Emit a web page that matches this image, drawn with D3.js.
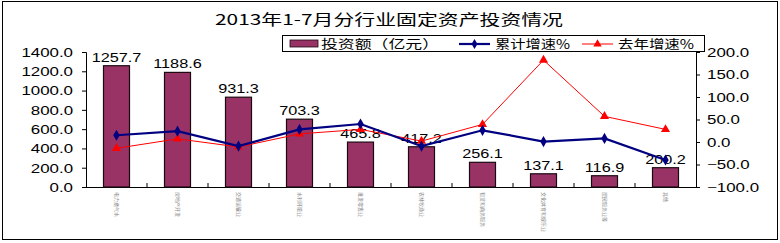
<!DOCTYPE html>
<html><head><meta charset="utf-8">
<script src="https://cdn.jsdelivr.net/npm/d3@7"></script>
<style>body{margin:0;background:#fff}svg{display:block}</style>
</head><body>
<svg id="c" width="780" height="243"></svg>
<script>
const categories = ["电力燃气水","房地产开发","交通运输业","水利环境业","批发零售业","农林牧渔业","租赁和商务服务","文化体育和娱乐业","居民服务业等","其他"];
const investment = [1257.7,1188.6,931.3,703.3,465.8,417.2,256.1,137.1,116.9,200.2];
const cumGrowth = [15,24,-9,28,40,-9,26,1,8,-40];
const lastYearGrowth = [-14,7,-11,18,28,2,39,182,57,28];
const leftTicks = [0,200,400,600,800,1000,1200,1400];
const rightTicks = [-100,-50,0,50,100,150,200];
const title = "2013年1-7月分行业固定资产投资情况";
const legendLabels = ["投资额（亿元）","累计增速%","去年增速%"];

const svg = d3.select("#c");
const L = 86, R = 696, T = 52, B = 187;
const numFont = "'Liberation Sans', Arial, sans-serif";

svg.append("rect").attr("x",2.5).attr("y",1.5).attr("width",775).attr("height",238)
  .attr("fill","#fff").attr("stroke","#000").attr("stroke-width",1);

const x = d3.scaleBand().domain(categories).range([L,R]);
const yL = d3.scaleLinear().domain([0,1400]).range([B,T]);
const yR = d3.scaleLinear().domain([-100,200]).range([B,T]);

function stretch(sel, k){
  sel.each(function(){ const n=this.getComputedTextLength(); d3.select(this).attr("textLength", n*k).attr("lengthAdjust","spacingAndGlyphs"); });
}

// title
svg.append("text").attr("x",389).attr("y",25).attr("text-anchor","middle")
  .attr("font-family","'Noto Sans CJK SC', sans-serif").attr("font-size",15).attr("fill","#000")
  .attr("textLength",348).attr("lengthAdjust","spacingAndGlyphs").text(title);

// left axis
const gl = svg.append("g").attr("transform",`translate(${L},0)`)
  .call(d3.axisLeft(yL).tickValues(leftTicks).tickSize(4).tickPadding(9).tickFormat(d3.format(".1f")));
gl.select(".domain").attr("stroke","#000");
gl.selectAll("text").attr("font-family",numFont).attr("font-size",12.5).attr("fill","#000").attr("dy","0.35em");
stretch(gl.selectAll("text"),1.35);

// right axis
const gr = svg.append("g").attr("transform",`translate(${R},0)`)
  .call(d3.axisRight(yR).tickValues(rightTicks).tickSize(4).tickPadding(7).tickFormat(d3.format(".1f")));
gr.select(".domain").attr("stroke","#000");
gr.selectAll("text").attr("font-family",numFont).attr("font-size",12.5).attr("fill","#000").attr("dy","0.35em");
stretch(gr.selectAll("text"),1.35);

// bottom axis
svg.append("line").attr("x1",L).attr("x2",R).attr("y1",B+0.5).attr("y2",B+0.5).attr("stroke","#000");
svg.append("g").selectAll("line").data(d3.range(1,categories.length)).join("line")
  .attr("x1",i=>L+i*x.bandwidth()).attr("x2",i=>L+i*x.bandwidth())
  .attr("y1",B).attr("y2",B-4).attr("stroke","#000");

// bars
const bw = 26;
svg.append("g").selectAll("rect").data(investment).join("rect")
  .attr("x",(d,i)=>x(categories[i])+x.bandwidth()/2-bw/2)
  .attr("y",d=>yL(d)).attr("width",bw).attr("height",d=>B-yL(d))
  .attr("fill","#993366").attr("stroke","#1a0a10").attr("stroke-width",1.2);

// bar labels
const bl = svg.append("g").selectAll("text").data(investment).join("text")
  .attr("x",(d,i)=>x(categories[i])+x.bandwidth()/2).attr("y",d=>yL(d)-4)
  .attr("text-anchor","middle").attr("font-family",numFont).attr("font-size",12.5).attr("fill","#000")
  .text(d=>d.toFixed(1));
stretch(bl,1.3);

// category labels (vertical)
svg.append("g").selectAll("text").data(categories).join("text")
  .attr("transform",d=>`translate(${x(d)+x.bandwidth()/2-2},192) rotate(90)`)
  .attr("font-family","'Noto Sans CJK SC', sans-serif").attr("font-size",5).attr("fill","#888")
  .text(d=>d);

// lines
const cx = i => x(categories[i]) + x.bandwidth()/2;
const lineR = d3.line().x((d,i)=>cx(i)).y(d=>yR(d));
svg.append("path").datum(lastYearGrowth).attr("d",lineR).attr("fill","none").attr("stroke","#ff0000").attr("stroke-width",1);
svg.append("path").datum(cumGrowth).attr("d",lineR).attr("fill","none").attr("stroke","#000080").attr("stroke-width",2.2);
svg.append("g").selectAll("path").data(lastYearGrowth).join("path")
  .attr("transform",(d,i)=>`translate(${cx(i)},${yR(d)})`)
  .attr("d",d3.symbol(d3.symbolTriangle,36)).attr("fill","#ff0000");
svg.append("g").selectAll("path").data(cumGrowth).join("path")
  .attr("transform",(d,i)=>`translate(${cx(i)},${yR(d)})`)
  .attr("d",d3.symbol(d3.symbolDiamond,36)).attr("fill","#000080");

// legend
const lg = svg.append("g");
lg.append("rect").attr("x",282.5).attr("y",35.5).attr("width",422).attr("height",16)
  .attr("fill","#fff").attr("stroke","#000");
lg.append("rect").attr("x",290).attr("y",40).attr("width",28).attr("height",7).attr("fill","#993366").attr("stroke","#1a0a10").attr("stroke-width",0.8);
lg.append("line").attr("x1",459).attr("x2",490).attr("y1",44).attr("y2",44).attr("stroke","#000080").attr("stroke-width",2.2);
lg.append("path").attr("transform","translate(474.5,44)").attr("d",d3.symbol(d3.symbolDiamond,30)).attr("fill","#000080");
lg.append("line").attr("x1",582).attr("x2",613).attr("y1",44).attr("y2",44).attr("stroke","#ff0000").attr("stroke-width",1);
lg.append("path").attr("transform","translate(597.5,44)").attr("d",d3.symbol(d3.symbolTriangle,30)).attr("fill","#ff0000");
const lx = [[321,118],[495,75],[618,76]];
lg.selectAll("text").data(legendLabels).join("text")
  .attr("x",(d,i)=>lx[i][0]).attr("y",48.5).attr("textLength",(d,i)=>lx[i][1]).attr("lengthAdjust","spacingAndGlyphs")
  .attr("font-family","'Noto Sans CJK SC', sans-serif").attr("font-size",12.5).attr("fill","#000").text(d=>d);
</script>
</body></html>
